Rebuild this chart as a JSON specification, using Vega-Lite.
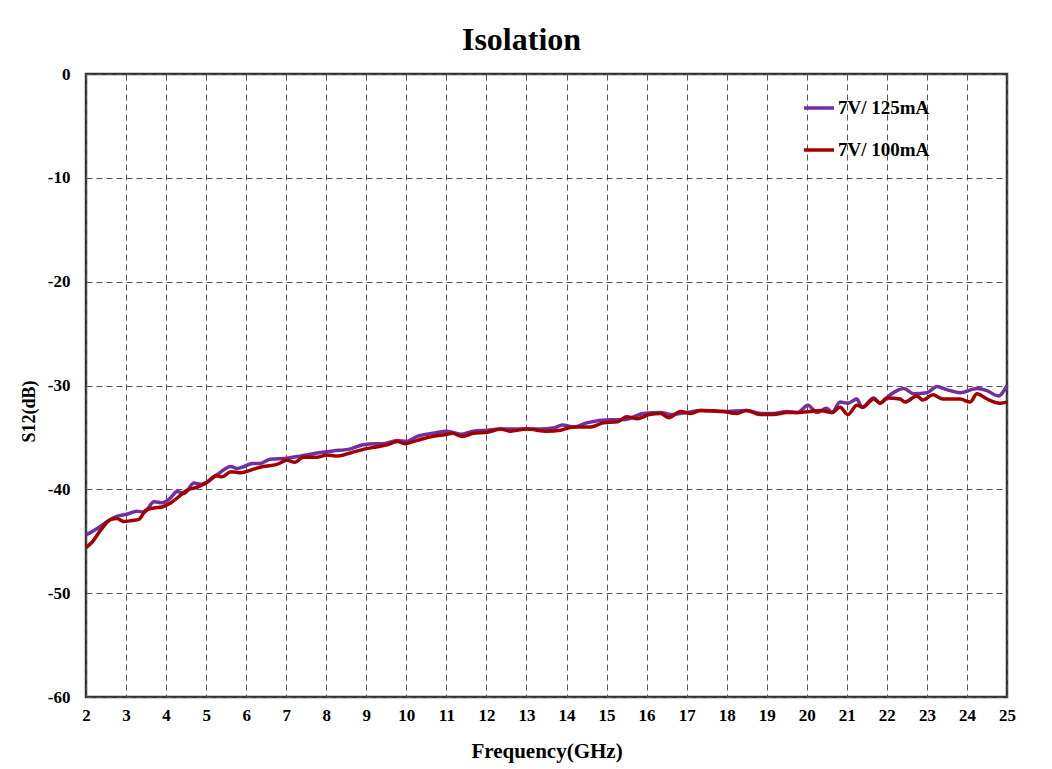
{
  "$schema": "https://vega.github.io/schema/vega-lite/v6.json",
  "autosize": "none",
  "width": 921,
  "height": 623,
  "padding": {"left": 86, "top": 74, "right": 45, "bottom": 72},
  "background": "white",
  "title": {"text": "Isolation", "font": "Liberation Serif", "fontSize": 32, "fontWeight": "bold", "color": "black", "offset": 8, "dx": -25},
  "config": {
    "view": {"stroke": "#333333", "strokeWidth": 2.5},
    "axis": {
      "labelFont": "Liberation Serif", "labelFontSize": 17, "labelFontWeight": "bold", "labelColor": "black",
      "titleFont": "Liberation Serif", "titleFontSize": 19, "titleFontWeight": "bold", "titleColor": "black",
      "grid": true, "gridColor": "#555555", "gridDash": [6, 4], "gridWidth": 1,
      "ticks": false, "domain": false
    },
    "legend": {"labelFont": "Liberation Serif", "labelFontSize": 19, "labelFontWeight": "bold", "labelColor": "black"}
  },
  "data": {"values": [
    {"f":2.0,"s":"7V/ 125mA","v":-44.4},{"f":2.27,"s":"7V/ 125mA","v":-43.8},{"f":2.57,"s":"7V/ 125mA","v":-43.0},{"f":2.77,"s":"7V/ 125mA","v":-42.6},{"f":3.02,"s":"7V/ 125mA","v":-42.4},{"f":3.27,"s":"7V/ 125mA","v":-42.1},{"f":3.45,"s":"7V/ 125mA","v":-42.2},{"f":3.7,"s":"7V/ 125mA","v":-41.2},{"f":3.9,"s":"7V/ 125mA","v":-41.3},{"f":4.12,"s":"7V/ 125mA","v":-40.8},{"f":4.27,"s":"7V/ 125mA","v":-40.2},{"f":4.45,"s":"7V/ 125mA","v":-40.4},{"f":4.7,"s":"7V/ 125mA","v":-39.4},{"f":4.87,"s":"7V/ 125mA","v":-39.5},{"f":5.02,"s":"7V/ 125mA","v":-39.3},{"f":5.27,"s":"7V/ 125mA","v":-38.6},{"f":5.62,"s":"7V/ 125mA","v":-37.8},{"f":5.77,"s":"7V/ 125mA","v":-38.0},{"f":5.95,"s":"7V/ 125mA","v":-37.8},{"f":6.15,"s":"7V/ 125mA","v":-37.5},{"f":6.35,"s":"7V/ 125mA","v":-37.5},{"f":6.6,"s":"7V/ 125mA","v":-37.1},{"f":7.02,"s":"7V/ 125mA","v":-37.0},{"f":7.35,"s":"7V/ 125mA","v":-36.8},{"f":7.77,"s":"7V/ 125mA","v":-36.5},{"f":8.17,"s":"7V/ 125mA","v":-36.3},{"f":8.6,"s":"7V/ 125mA","v":-36.1},{"f":8.92,"s":"7V/ 125mA","v":-35.7},{"f":9.22,"s":"7V/ 125mA","v":-35.6},{"f":9.42,"s":"7V/ 125mA","v":-35.6},{"f":9.77,"s":"7V/ 125mA","v":-35.3},{"f":10.0,"s":"7V/ 125mA","v":-35.4},{"f":10.27,"s":"7V/ 125mA","v":-34.9},{"f":10.67,"s":"7V/ 125mA","v":-34.6},{"f":11.02,"s":"7V/ 125mA","v":-34.4},{"f":11.35,"s":"7V/ 125mA","v":-34.7},{"f":11.67,"s":"7V/ 125mA","v":-34.4},{"f":12.02,"s":"7V/ 125mA","v":-34.3},{"f":12.35,"s":"7V/ 125mA","v":-34.2},{"f":12.85,"s":"7V/ 125mA","v":-34.2},{"f":13.35,"s":"7V/ 125mA","v":-34.2},{"f":13.67,"s":"7V/ 125mA","v":-34.1},{"f":13.9,"s":"7V/ 125mA","v":-33.8},{"f":14.17,"s":"7V/ 125mA","v":-34.0},{"f":14.5,"s":"7V/ 125mA","v":-33.6},{"f":15.1,"s":"7V/ 125mA","v":-33.3},{"f":15.42,"s":"7V/ 125mA","v":-33.3},{"f":15.92,"s":"7V/ 125mA","v":-32.7},{"f":16.35,"s":"7V/ 125mA","v":-32.6},{"f":16.6,"s":"7V/ 125mA","v":-32.8},{"f":17.0,"s":"7V/ 125mA","v":-32.6},{"f":17.35,"s":"7V/ 125mA","v":-32.4},{"f":17.92,"s":"7V/ 125mA","v":-32.5},{"f":18.5,"s":"7V/ 125mA","v":-32.4},{"f":18.85,"s":"7V/ 125mA","v":-32.7},{"f":19.17,"s":"7V/ 125mA","v":-32.7},{"f":19.5,"s":"7V/ 125mA","v":-32.5},{"f":19.77,"s":"7V/ 125mA","v":-32.6},{"f":20.03,"s":"7V/ 125mA","v":-31.9},{"f":20.25,"s":"7V/ 125mA","v":-32.6},{"f":20.5,"s":"7V/ 125mA","v":-32.2},{"f":20.63,"s":"7V/ 125mA","v":-32.6},{"f":20.83,"s":"7V/ 125mA","v":-31.6},{"f":21.03,"s":"7V/ 125mA","v":-31.7},{"f":21.25,"s":"7V/ 125mA","v":-31.3},{"f":21.38,"s":"7V/ 125mA","v":-32.1},{"f":21.67,"s":"7V/ 125mA","v":-31.2},{"f":21.83,"s":"7V/ 125mA","v":-31.7},{"f":22.08,"s":"7V/ 125mA","v":-30.9},{"f":22.42,"s":"7V/ 125mA","v":-30.3},{"f":22.67,"s":"7V/ 125mA","v":-30.8},{"f":23.0,"s":"7V/ 125mA","v":-30.7},{"f":23.25,"s":"7V/ 125mA","v":-30.1},{"f":23.5,"s":"7V/ 125mA","v":-30.4},{"f":23.83,"s":"7V/ 125mA","v":-30.7},{"f":24.25,"s":"7V/ 125mA","v":-30.3},{"f":24.5,"s":"7V/ 125mA","v":-30.5},{"f":24.78,"s":"7V/ 125mA","v":-31.0},{"f":25.0,"s":"7V/ 125mA","v":-30.0},
    {"f":2.0,"s":"7V/ 100mA","v":-45.6},{"f":2.15,"s":"7V/ 100mA","v":-45.1},{"f":2.37,"s":"7V/ 100mA","v":-43.9},{"f":2.62,"s":"7V/ 100mA","v":-42.9},{"f":2.77,"s":"7V/ 100mA","v":-42.8},{"f":2.95,"s":"7V/ 100mA","v":-43.1},{"f":3.15,"s":"7V/ 100mA","v":-43.0},{"f":3.32,"s":"7V/ 100mA","v":-42.9},{"f":3.5,"s":"7V/ 100mA","v":-42.0},{"f":3.7,"s":"7V/ 100mA","v":-41.8},{"f":3.9,"s":"7V/ 100mA","v":-41.7},{"f":4.12,"s":"7V/ 100mA","v":-41.3},{"f":4.32,"s":"7V/ 100mA","v":-40.7},{"f":4.52,"s":"7V/ 100mA","v":-40.1},{"f":4.77,"s":"7V/ 100mA","v":-39.8},{"f":5.0,"s":"7V/ 100mA","v":-39.4},{"f":5.25,"s":"7V/ 100mA","v":-38.7},{"f":5.4,"s":"7V/ 100mA","v":-38.8},{"f":5.62,"s":"7V/ 100mA","v":-38.3},{"f":5.87,"s":"7V/ 100mA","v":-38.4},{"f":6.15,"s":"7V/ 100mA","v":-38.1},{"f":6.42,"s":"7V/ 100mA","v":-37.8},{"f":6.77,"s":"7V/ 100mA","v":-37.6},{"f":7.02,"s":"7V/ 100mA","v":-37.2},{"f":7.22,"s":"7V/ 100mA","v":-37.4},{"f":7.42,"s":"7V/ 100mA","v":-36.9},{"f":7.77,"s":"7V/ 100mA","v":-36.9},{"f":8.02,"s":"7V/ 100mA","v":-36.7},{"f":8.27,"s":"7V/ 100mA","v":-36.8},{"f":8.6,"s":"7V/ 100mA","v":-36.5},{"f":8.97,"s":"7V/ 100mA","v":-36.1},{"f":9.27,"s":"7V/ 100mA","v":-35.9},{"f":9.52,"s":"7V/ 100mA","v":-35.7},{"f":9.77,"s":"7V/ 100mA","v":-35.4},{"f":9.97,"s":"7V/ 100mA","v":-35.6},{"f":10.17,"s":"7V/ 100mA","v":-35.4},{"f":10.35,"s":"7V/ 100mA","v":-35.2},{"f":10.67,"s":"7V/ 100mA","v":-34.9},{"f":11.02,"s":"7V/ 100mA","v":-34.7},{"f":11.15,"s":"7V/ 100mA","v":-34.6},{"f":11.4,"s":"7V/ 100mA","v":-34.9},{"f":11.67,"s":"7V/ 100mA","v":-34.6},{"f":12.02,"s":"7V/ 100mA","v":-34.5},{"f":12.35,"s":"7V/ 100mA","v":-34.2},{"f":12.6,"s":"7V/ 100mA","v":-34.4},{"f":13.0,"s":"7V/ 100mA","v":-34.2},{"f":13.52,"s":"7V/ 100mA","v":-34.4},{"f":13.85,"s":"7V/ 100mA","v":-34.3},{"f":14.17,"s":"7V/ 100mA","v":-34.0},{"f":14.6,"s":"7V/ 100mA","v":-34.0},{"f":14.92,"s":"7V/ 100mA","v":-33.6},{"f":15.27,"s":"7V/ 100mA","v":-33.5},{"f":15.5,"s":"7V/ 100mA","v":-33.0},{"f":15.75,"s":"7V/ 100mA","v":-33.2},{"f":16.07,"s":"7V/ 100mA","v":-32.8},{"f":16.35,"s":"7V/ 100mA","v":-32.7},{"f":16.55,"s":"7V/ 100mA","v":-33.1},{"f":16.85,"s":"7V/ 100mA","v":-32.5},{"f":17.1,"s":"7V/ 100mA","v":-32.7},{"f":17.35,"s":"7V/ 100mA","v":-32.4},{"f":17.92,"s":"7V/ 100mA","v":-32.5},{"f":18.25,"s":"7V/ 100mA","v":-32.7},{"f":18.5,"s":"7V/ 100mA","v":-32.4},{"f":18.83,"s":"7V/ 100mA","v":-32.8},{"f":19.17,"s":"7V/ 100mA","v":-32.8},{"f":19.5,"s":"7V/ 100mA","v":-32.6},{"f":19.77,"s":"7V/ 100mA","v":-32.6},{"f":20.1,"s":"7V/ 100mA","v":-32.5},{"f":20.33,"s":"7V/ 100mA","v":-32.4},{"f":20.63,"s":"7V/ 100mA","v":-32.6},{"f":20.83,"s":"7V/ 100mA","v":-32.1},{"f":21.03,"s":"7V/ 100mA","v":-32.8},{"f":21.25,"s":"7V/ 100mA","v":-31.9},{"f":21.4,"s":"7V/ 100mA","v":-32.1},{"f":21.67,"s":"7V/ 100mA","v":-31.3},{"f":21.83,"s":"7V/ 100mA","v":-31.7},{"f":22.0,"s":"7V/ 100mA","v":-31.2},{"f":22.33,"s":"7V/ 100mA","v":-31.3},{"f":22.45,"s":"7V/ 100mA","v":-31.6},{"f":22.75,"s":"7V/ 100mA","v":-31.0},{"f":22.9,"s":"7V/ 100mA","v":-31.4},{"f":23.15,"s":"7V/ 100mA","v":-30.9},{"f":23.4,"s":"7V/ 100mA","v":-31.3},{"f":23.83,"s":"7V/ 100mA","v":-31.3},{"f":24.08,"s":"7V/ 100mA","v":-31.6},{"f":24.25,"s":"7V/ 100mA","v":-30.8},{"f":24.5,"s":"7V/ 100mA","v":-31.3},{"f":24.83,"s":"7V/ 100mA","v":-31.7},{"f":25.0,"s":"7V/ 100mA","v":-31.6}
  ]},
  "encoding": {
    "x": {"field": "f", "type": "quantitative", "scale": {"domain": [2, 25], "nice": false, "zero": false},
      "axis": {"values": [2,3,4,5,6,7,8,9,10,11,12,13,14,15,16,17,18,19,20,21,22,23,24,25], "title": "Frequency(GHz)", "titleFontSize": 21, "labelPadding": 10, "titlePadding": 17, "labelFlush": false}},
    "y": {"field": "v", "type": "quantitative", "scale": {"domain": [-60, 0], "nice": false},
      "axis": {"values": [-60,-50,-40,-30,-20,-10,0], "labelExpr": "'' + datum.value", "title": "S12(dB)", "titleFontSize": 18, "titleY": 337, "labelPadding": 16, "titlePadding": 9}},
    "color": {"field": "s", "type": "nominal", "scale": {"domain": ["7V/ 125mA", "7V/ 100mA"], "range": ["#7030A0", "#A00000"]},
      "legend": {"title": null, "orient": "none", "legendX": 716, "legendY": 17, "symbolType": "stroke", "symbolSize": 900, "symbolStrokeWidth": 3.5, "rowPadding": 15, "labelOffset": 2}}
  },
  "layer": [
    {"transform": [{"filter": "datum.s === '7V/ 125mA'"}], "mark": {"type": "line", "strokeWidth": 3.5, "interpolate": "monotone"}},
    {"transform": [{"filter": "datum.s === '7V/ 100mA'"}], "mark": {"type": "line", "strokeWidth": 3.5, "interpolate": "monotone"}}
  ]
}
